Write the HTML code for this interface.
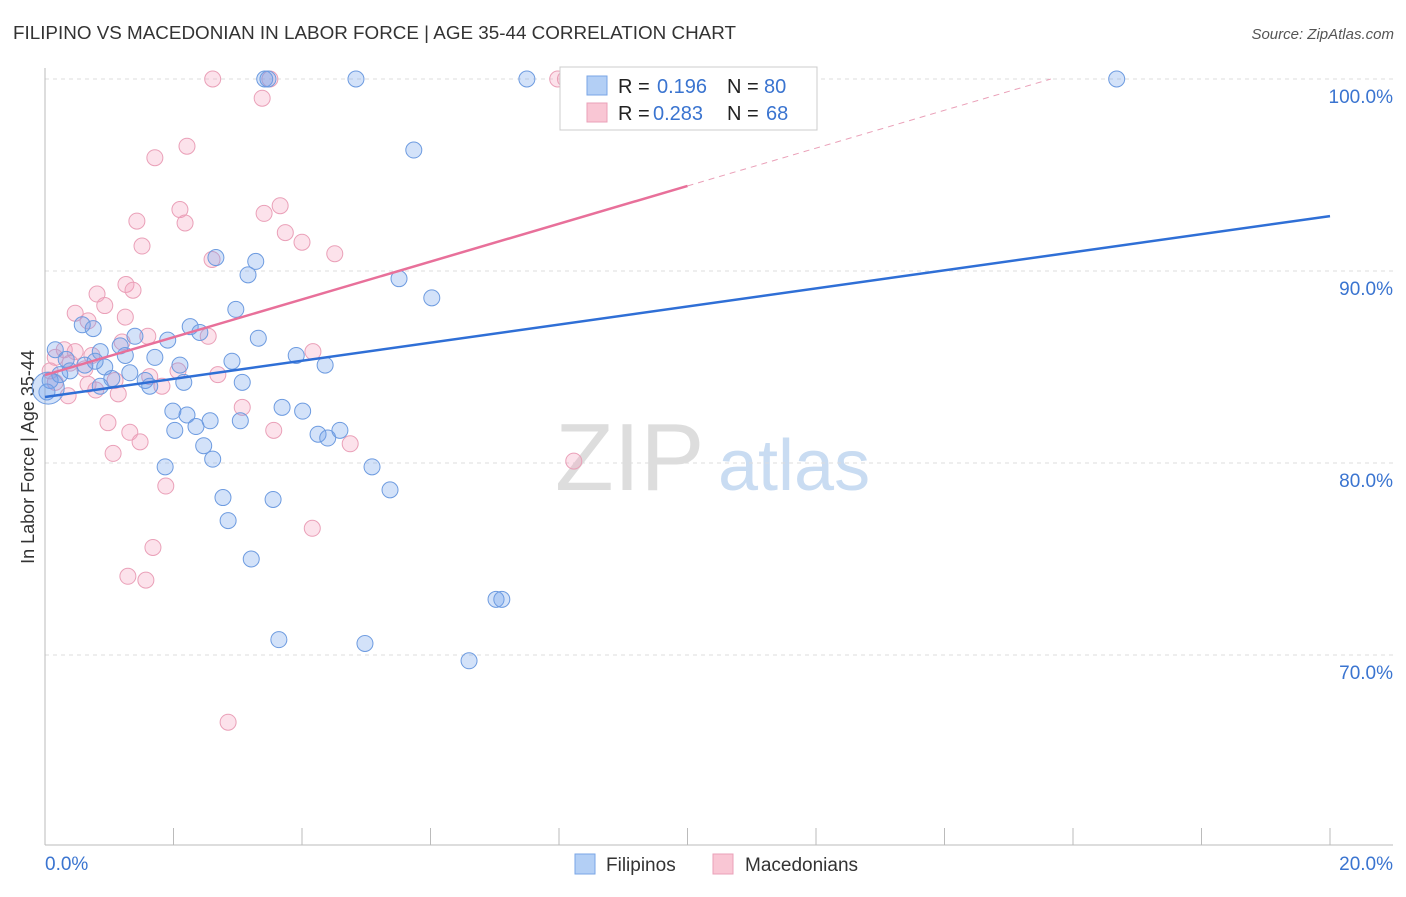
<!DOCTYPE html>
<html><head><meta charset="utf-8"><style>
body{margin:0;background:#fff;font-family:"Liberation Sans",sans-serif;}
svg text{font-family:"Liberation Sans",sans-serif;}
</style></head><body>
<svg id="chart" width="1406" height="892" xmlns="http://www.w3.org/2000/svg">
<text x="13" y="39" font-size="18" fill="#333" textLength="723" lengthAdjust="spacingAndGlyphs">FILIPINO VS MACEDONIAN IN LABOR FORCE | AGE 35-44 CORRELATION CHART</text>
<text x="1394" y="39" font-size="15" fill="#555" text-anchor="end" font-style="italic">Source: ZipAtlas.com</text>
<text x="555" y="490" font-size="96" fill="#ddd" font-family="Liberation Serif">ZIP</text>
<text x="718" y="490" font-size="72" fill="#c9dcf2">atlas</text>
<text transform="translate(34,457) rotate(-90)" font-size="18" fill="#333" text-anchor="middle">In Labor Force | Age 35-44</text>
<g id="grid"></g><g id="axes"></g><g id="pts"></g><g id="lines"></g>
<g>
<rect x="560" y="67" width="257" height="63" fill="#fff" stroke="#ccc"/>
<rect x="587" y="76" width="20" height="19" fill="#b3cff5" stroke="#7aa6e6"/>
<rect x="587" y="103" width="20" height="19" fill="#f9c6d4" stroke="#eaa0b8"/>
<text x="618" y="93" font-size="20" fill="#222">R = </text><text x="657" y="93" font-size="20" fill="#3a74d0">0.196</text>
<text x="727" y="93" font-size="20" fill="#222">N = </text><text x="764" y="93" font-size="20" fill="#3a74d0">80</text>
<text x="618" y="120" font-size="20" fill="#222">R = </text><text x="653" y="120" font-size="20" fill="#3a74d0">0.283</text>
<text x="727" y="120" font-size="20" fill="#222">N = </text><text x="766" y="120" font-size="20" fill="#3a74d0">68</text>
</g>
<g>
<rect x="575" y="854" width="20" height="20" fill="#b3cff5" stroke="#7aa6e6"/>
<text x="606" y="871" font-size="19" fill="#333">Filipinos</text>
<rect x="713" y="854" width="20" height="20" fill="#f9c6d4" stroke="#eaa0b8"/>
<text x="745" y="871" font-size="19" fill="#333">Macedonians</text>
</g>
</svg>
<script>
const yTicks=[100,90,80,70];
const xTickLabels=["0.0%","20.0%"];
const blueX=[3.42,3.47,4.84,7.5,11.75,16.68,5.74,2.66,3.28,3.16,5.51,6.02,2.97,0.58,0.75,2.26,2.41,3.32,1.4,1.91,0.16,0.86,1.25,1.71,2.91,3.91,2.1,0.33,0.62,0.93,1.32,4.36,0.23,0.08,1.04,1.56,2.16,3.07,0.86,1.63,0.03,1.99,2.21,2.57,3.04,3.69,4.01,2.35,2.02,4.25,4.4,4.59,2.47,2.61,1.87,5.09,5.37,2.77,3.55,2.85,3.21,7.02,7.11,3.64,4.98,6.6,0.39,0.78,1.17];
const blueY=[100,100,100,100,100,100,96.3,90.7,90.5,89.8,89.6,88.6,88.0,87.2,87.0,87.1,86.8,86.5,86.6,86.4,85.9,85.8,85.6,85.5,85.3,85.6,85.1,85.4,85.1,85.0,84.7,85.1,84.6,84.3,84.4,84.3,84.2,84.2,84.0,84.0,83.7,82.7,82.5,82.2,82.2,82.9,82.7,81.9,81.7,81.5,81.3,81.7,80.9,80.2,79.8,79.8,78.6,78.2,78.1,77.0,75.0,72.9,72.9,70.8,70.6,69.7,84.8,85.3,86.1];
const pinkX=[2.61,3.5,7.98,8.1,3.38,1.71,2.21,2.1,3.66,3.41,1.43,2.18,3.74,4.0,1.51,4.51,2.6,1.26,1.37,0.81,0.93,0.47,1.25,0.67,1.6,2.54,1.2,0.3,0.47,0.16,0.73,4.17,0.39,0.62,0.08,2.07,2.69,1.63,1.09,0.16,0.67,1.82,0.79,1.14,0.36,3.07,0.98,1.32,3.56,1.48,4.75,1.06,8.23,1.88,4.16,1.68,1.29,1.57,2.85];
const pinkY=[100,100,100,100,99.0,95.9,96.5,93.2,93.4,93.0,92.6,92.5,92.0,91.5,91.3,90.9,90.6,89.3,89.0,88.8,88.2,87.8,87.6,87.4,86.6,86.6,86.3,85.9,85.8,85.5,85.6,85.8,85.2,84.9,84.8,84.8,84.6,84.5,84.3,84.2,84.1,84.0,83.8,83.6,83.5,82.9,82.1,81.6,81.7,81.1,81.0,80.5,80.1,78.8,76.6,75.6,74.1,73.9,66.5];
const blueLine=[83.44,92.86]; // values at x=0 and x=20
const pinkLine=[84.58,94.43]; // values at x=0 and x=10
const NS="http://www.w3.org/2000/svg";
const sx=v=>45+v*64.25, sy=v=>79+(100-v)*19.2;
function mk(p,t,a){const e=document.createElementNS(NS,t);for(const k in a)e.setAttribute(k,a[k]);document.getElementById(p).appendChild(e);return e;}
yTicks.forEach(t=>{
 const l=mk('grid','line',{x1:45,x2:1393,y1:sy(t),y2:sy(t),stroke:'#ddd','stroke-dasharray':'4,4'});
 
 
 const tx=mk('grid','text',{x:1393,y:sy(t)+24,'font-size':19,fill:'#3a74d0','text-anchor':'end'});
 tx.textContent=t.toFixed(1)+'%';
 
 
});
const ax=mk('axes','line',{x1:45,x2:45,y1:68,y2:845,stroke:'#bbb'});


const bx=mk('axes','line',{x1:45,x2:1393,y1:845,y2:845,stroke:'#bbb'});


for(let i=0;i<=10;i++){const t=mk('axes','line',{x1:sx(i*2),x2:sx(i*2),y1:828,y2:845,stroke:'#bbb'});
 
 }
[[0,'start',45],[1,'end',1393]].forEach(([i,a,x])=>{const t=mk('axes','text',{x:x,y:870,'font-size':19,fill:'#3a74d0','text-anchor':a});t.textContent=xTickLabels[i];
 
 });
function pts(X,Y,f,s,n){X.forEach((x,i)=>{const c=mk('pts','circle',{cx:sx(x),cy:sy(Y[i]),r:8,fill:f,stroke:s,'stroke-width':1});
 
 });}
pts(pinkX,pinkY,'rgba(245,160,190,0.3)','#eaa0b8','macedonian-point');
pts(blueX,blueY,'rgba(110,160,235,0.3)','#6d9be0','filipino-point');
const big=mk('pts','circle',{cx:sx(0.05),cy:sy(83.9),r:16,fill:'rgba(110,160,235,0.3)',stroke:'#6d9be0'});


const bl=mk('lines','line',{x1:sx(0),y1:sy(blueLine[0]),x2:sx(20),y2:sy(blueLine[1]),stroke:'#2f6fd6','stroke-width':2.5});


const slope=(pinkLine[1]-pinkLine[0])/10, xe=(100-pinkLine[0])/slope;
const pl=mk('lines','line',{x1:sx(0),y1:sy(pinkLine[0]),x2:sx(10),y2:sy(pinkLine[1]),stroke:'#e8709a','stroke-width':2.5});


const pd=mk('lines','line',{x1:sx(10),y1:sy(pinkLine[1]),x2:sx(xe),y2:sy(100),stroke:'#eaa0b8','stroke-width':1,'stroke-dasharray':'6,5'});


</script>
</body></html>
